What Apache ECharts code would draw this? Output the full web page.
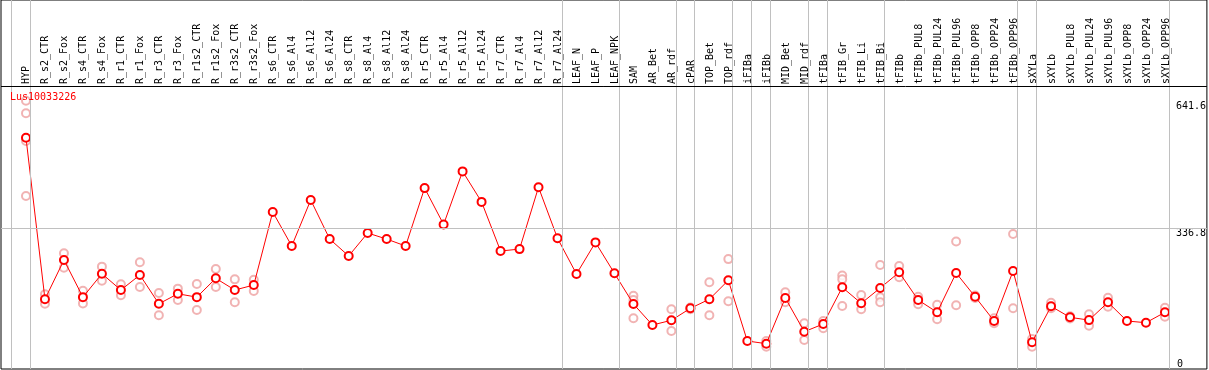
<!DOCTYPE html>
<html><head><meta charset="utf-8">
<script src="https://cdn.jsdelivr.net/npm/echarts@6/dist/echarts.min.js"></script>
<style>html,body{margin:0;padding:0;background:#fff}#c{width:1209px;height:370px}</style>
</head><body><div id="c"></div>
<script>
const categories = ["HYP","R_s2_CTR","R_s2_Fox","R_s4_CTR","R_s4_Fox","R_r1_CTR","R_r1_Fox","R_r3_CTR","R_r3_Fox","R_r1s2_CTR","R_r1s2_Fox","R_r3s2_CTR","R_r3s2_Fox","R_s6_CTR","R_s6_Al4","R_s6_Al12","R_s6_Al24","R_s8_CTR","R_s8_Al4","R_s8_Al12","R_s8_Al24","R_r5_CTR","R_r5_Al4","R_r5_Al12","R_r5_Al24","R_r7_CTR","R_r7_Al4","R_r7_Al12","R_r7_Al24","LEAF_N","LEAF_P","LEAF_NPK","SAM","AR_Bet","AR_rdf","cPAR","TOP_Bet","TOP_rdf","iFIBa","iFIBb","MID_Bet","MID_rdf","tFIBa","tFIB_Gr","tFIB_Li","tFIB_Bi","tFIBb","tFIBb_PUL8","tFIBb_PUL24","tFIBb_PUL96","tFIBb_OPP8","tFIBb_OPP24","tFIBb_OPP96","sXYLa","sXYLb","sXYLb_PUL8","sXYLb_PUL24","sXYLb_PUL96","sXYLb_OPP8","sXYLb_OPP24","sXYLb_OPP96"];
const meanValues = [553.6,167,261,172,228,189,225,156,180,172,217,189,201,375.8,294.4,404.5,311,270.5,325.5,311,294.4,433,346,473,400,282.4,287,435,313,227.4,303,229,155.6,105.3,116.6,145.2,167,212.3,67,60.6,170,89.3,107.7,195.5,157.2,193.9,231.4,165.2,135.7,229.8,173,114.9,234.6,64,150,123.7,117,159.6,114.9,110.8,135.7];
const N = null;
const repA = [642,179,277,187.5,245,202.7,255.3,181.9,192.3,203.4,239.3,214.6,213.7,N,N,N,N,N,N,N,N,N,N,N,N,N,N,N,N,N,N,N,175.5,N,142.9,147,207.5,263,N,67,183.6,109.4,114.9,224,177.1,248.9,246.5,173,153.9,305,176,121.3,323,71.8,158.7,126,130.9,170.7,N,N,146.7];
const repB = [612,156,242.5,157,211.4,176.4,196.3,128.5,165.2,141.2,196.3,159.6,186.7,N,N,N,N,N,N,N,N,N,N,N,N,N,N,N,N,N,N,N,165.2,N,91,143,128.5,162,N,53.4,159.6,69.4,97.4,214.6,142.9,171.6,219.5,154.8,118.9,152.5,170,109.4,145.2,53.4,145.2,121,103.6,149.1,N,N,125.2];
const repC = [546,N,N,N,N,N,N,N,N,N,N,N,N,N,N,N,N,N,N,N,N,N,N,N,N,N,N,N,N,N,N,N,121.3,N,N,N,N,N,N,N,N,N,N,150.8,N,159.6,N,N,N,N,N,N,N,N,N,N,N,N,N,N,N];
const repD = [414,N,N,N,N,N,N,N,N,N,N,N,N,N,N,N,N,N,N,N,N,N,N,N,N,N,N,N,N,N,N,N,N,N,N,N,N,N,N,N,N,N,N,N,N,N,N,N,N,N,N,N,N,N,N,N,N,N,N,N,N];
const groupEnds = [-1,0,28,31,34,35,37,38,39,41,42,45,52,53,60];
const yTickLabels = [336.8, 641.6];
const yZeroLabel = [0];
const title = "Lus10033226";

const FONT = "DejaVu Sans Mono";
const repData = [];
[repA, repB, repC, repD].forEach(arr => arr.forEach((v, i) => { if (v != null) repData.push([i, v]); }));
const meanData = meanValues.map((v, i) => [i, v]);

const chart = echarts.init(document.getElementById('c'), null, {renderer: 'canvas'});
chart.setOption({
  animation: false,
  title: {text: title, left: 10, top: 92, padding: 0,
    textStyle: {color: '#ff0000', fontSize: 10, fontFamily: FONT, fontWeight: 'normal'}},
  grid: [
    {left: 1, right: 1, top: 0, bottom: 1, show: true, borderColor: '#000', borderWidth: 1, backgroundColor: 'transparent'},
    {left: 16.5, right: 33.5, top: 86, height: 1, show: false}
  ],
  xAxis: [
    {type: 'value', gridIndex: 0, min: -1.316, max: 62.21, axisLabel: {show: false}, axisTick: {show: false}, axisLine: {show: false}, splitLine: {show: false}},
    {type: 'category', gridIndex: 1, position: 'top', data: categories, boundaryGap: true,
      axisLine: {show: false}, axisTick: {show: false},
      axisLabel: {interval: 0, rotate: 90, margin: 2, color: '#000', fontSize: 10, fontFamily: FONT}}
  ],
  yAxis: [
    {type: 'value', gridIndex: 0, min: 0, max: 883.2, position: 'right', axisLine: {show: false}, axisTick: {show: false}, splitLine: {show: false},
      axisLabel: {customValues: yTickLabels, inside: true, align: 'left', verticalAlign: 'top', margin: 31, color: '#000', fontSize: 10, fontFamily: FONT}},
    {type: 'value', gridIndex: 0, min: 0, max: 883.2, position: 'right', axisLine: {show: false}, axisTick: {show: false}, splitLine: {show: false},
      axisLabel: {customValues: yZeroLabel, inside: true, align: 'left', verticalAlign: 'bottom', margin: 30, color: '#000', fontSize: 10, fontFamily: FONT}},
    {type: 'value', gridIndex: 1, show: false}
  ],
  series: [
    {type: 'scatter', xAxisIndex: 0, yAxisIndex: 0, data: repData, symbol: 'emptyCircle', symbolSize: 8, z: 2,
      itemStyle: {color: '#eea0a0', borderColor: '#eea0a0', borderWidth: 1.5},
      markLine: {silent: true, symbol: 'none', label: {show: false}, animation: false,
        lineStyle: {color: '#c0c0c0', width: 1, type: 'solid'},
        data: groupEnds.map(e => ({xAxis: e + 0.23}))
          .concat([{yAxis: 336.8}, {yAxis: 677.4, lineStyle: {color: '#000', width: 1, type: 'solid'}}])}},
    {type: 'line', xAxisIndex: 0, yAxisIndex: 0, data: meanData, symbol: 'emptyCircle', symbolSize: 8, z: 3,
      lineStyle: {color: '#ff0000', width: 1},
      itemStyle: {color: '#ff0000', borderColor: '#ff0000', borderWidth: 2}}
  ]
});
</script></body></html>
